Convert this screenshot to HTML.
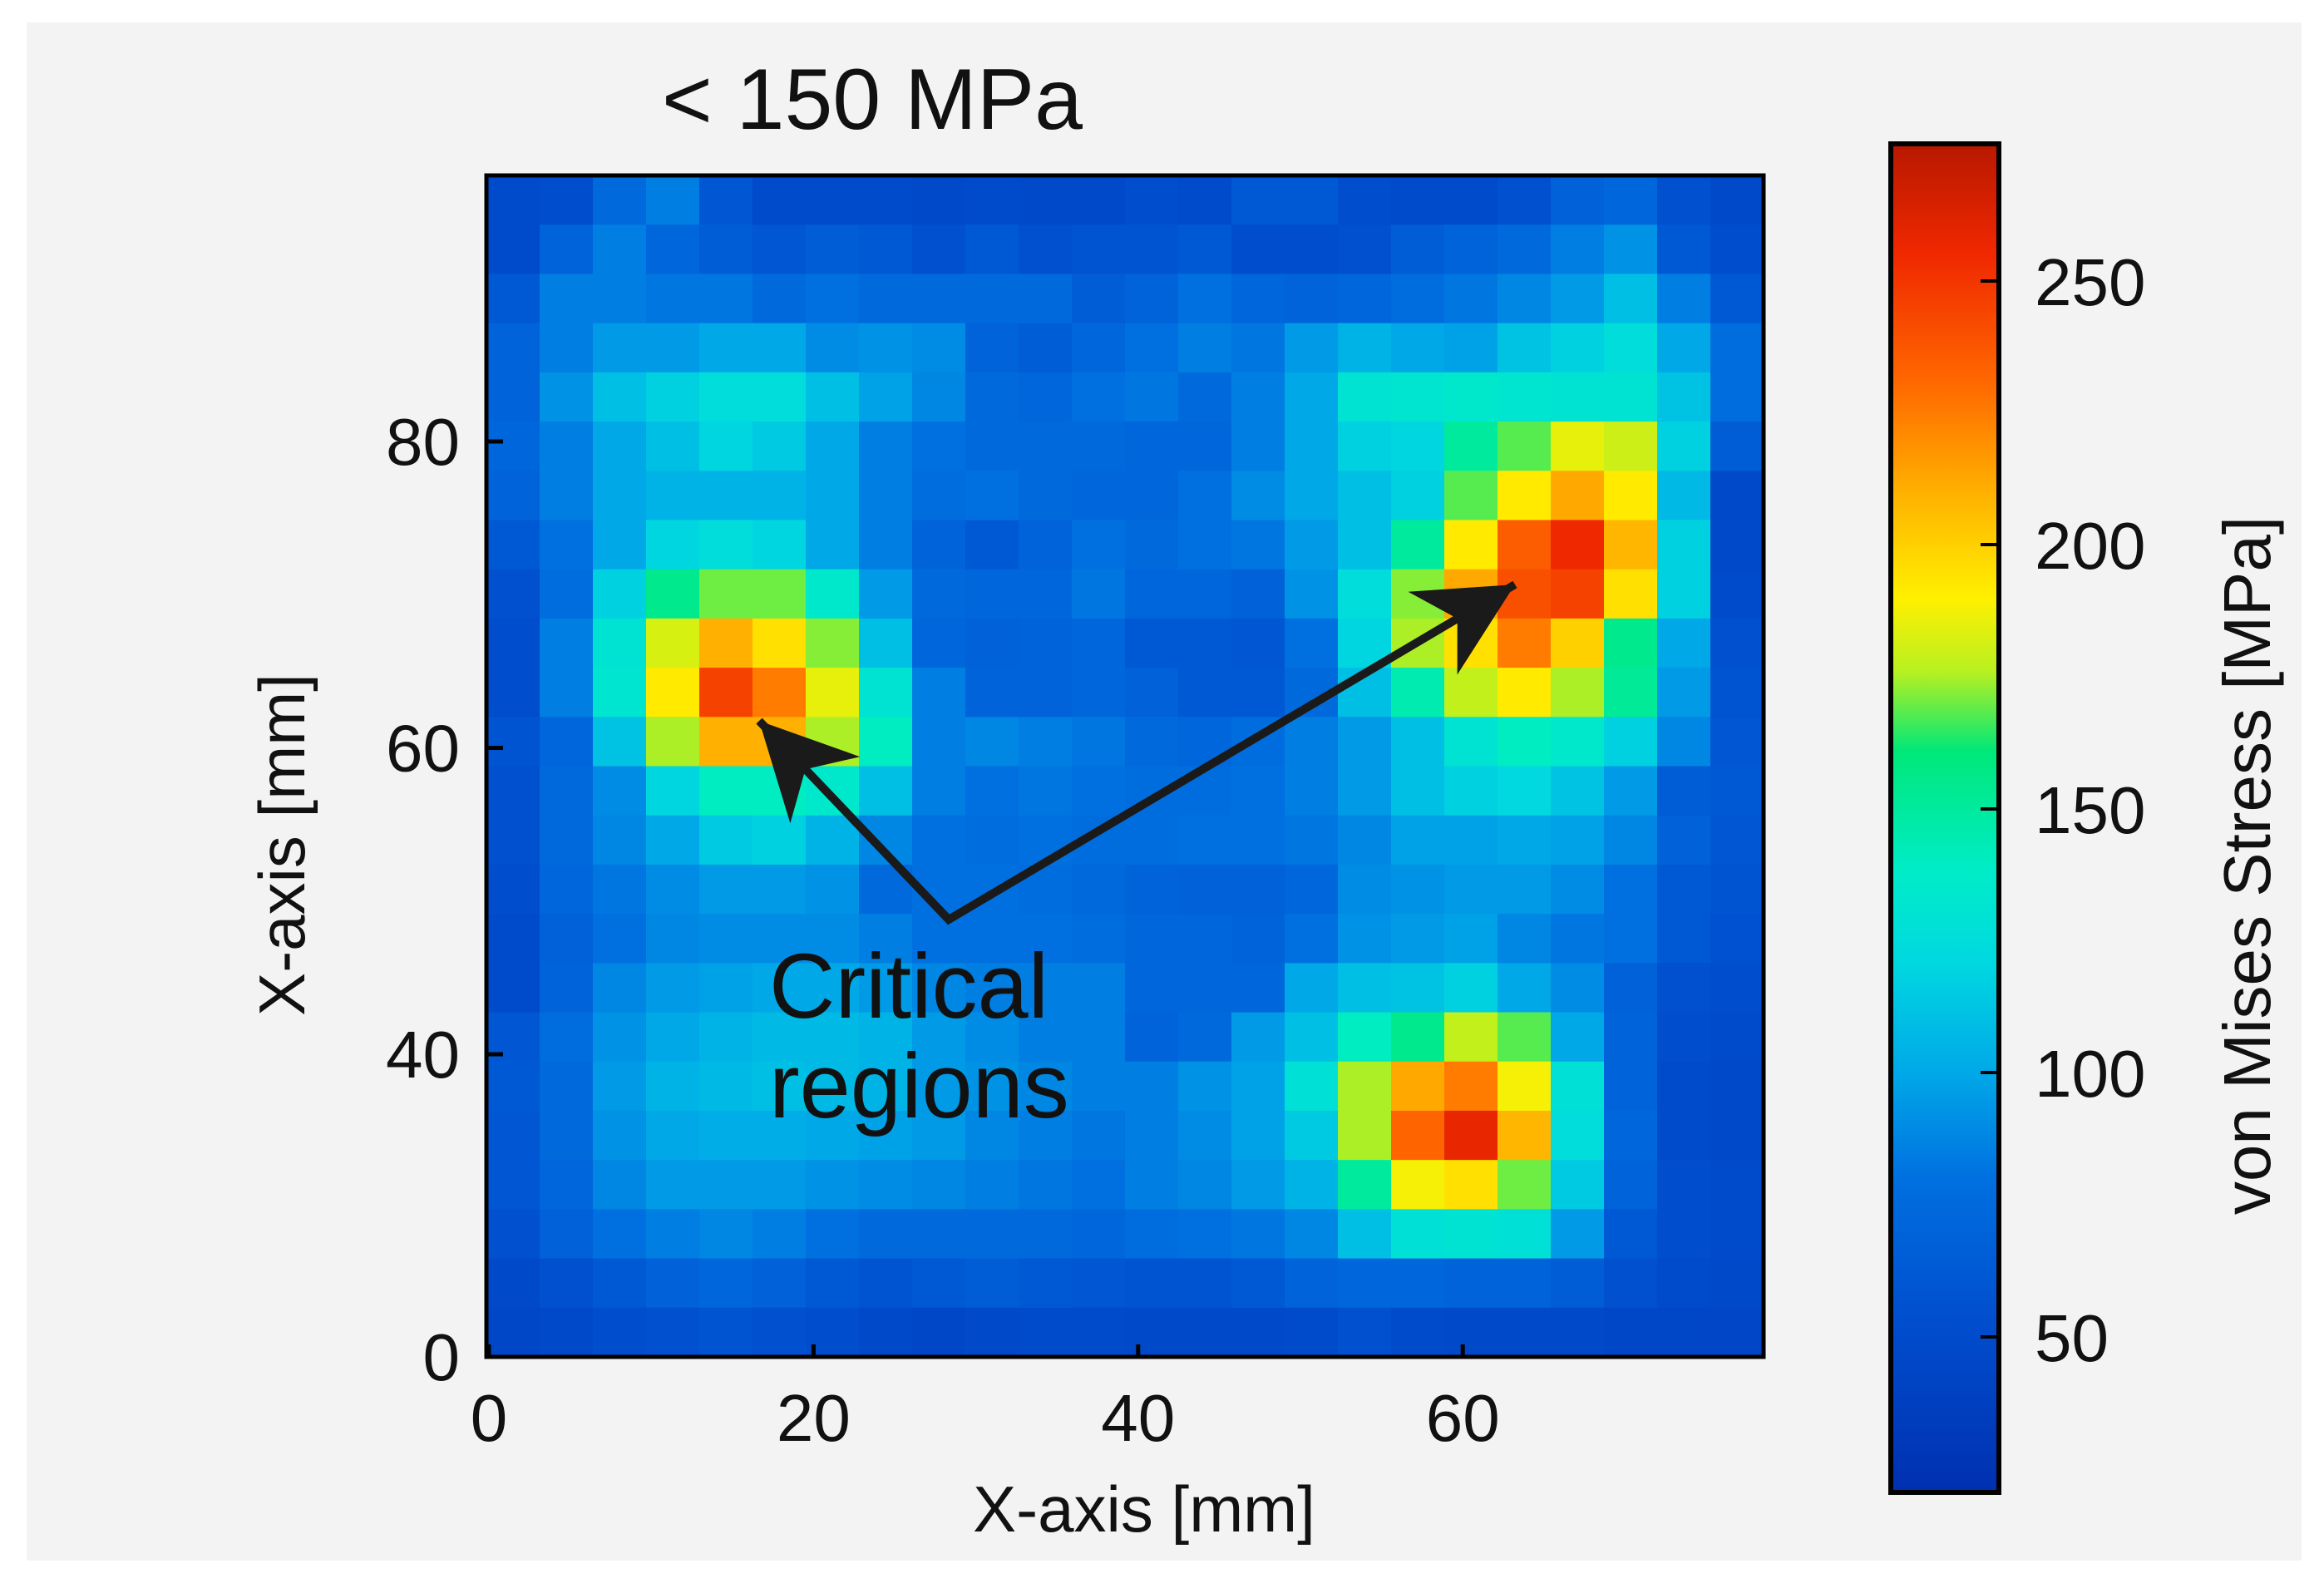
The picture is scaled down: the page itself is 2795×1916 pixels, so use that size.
<!DOCTYPE html>
<html><head><meta charset="utf-8">
<style>
html,body{margin:0;padding:0;background:#fff;}
svg{display:block;}
text{font-family:"Liberation Sans","DejaVu Sans",sans-serif;fill:#111;}
</style></head>
<body>
<svg id="chart" width="2795" height="1916" viewBox="0 0 2795 1916" xmlns="http://www.w3.org/2000/svg">
  <defs>
    <linearGradient id="cbgrad" x1="0" y1="1" x2="0" y2="0">
      <stop offset="0" stop-color="#0030b0"/>
      <stop offset="0.135" stop-color="#0050d0"/>
      <stop offset="0.233" stop-color="#0070e0"/>
      <stop offset="0.311" stop-color="#00a8e8"/>
      <stop offset="0.393" stop-color="#00d8e0"/>
      <stop offset="0.460" stop-color="#00ecc8"/>
      <stop offset="0.550" stop-color="#00e878"/>
      <stop offset="0.609" stop-color="#b8f020"/>
      <stop offset="0.663" stop-color="#fff000"/>
      <stop offset="0.742" stop-color="#ffb000"/>
      <stop offset="0.820" stop-color="#ff6a00"/>
      <stop offset="0.918" stop-color="#f02800"/>
      <stop offset="1" stop-color="#b81800"/>
    </linearGradient>
  </defs>
  <rect x="0" y="0" width="2795" height="1916" fill="#ffffff"/>
  <rect x="32" y="27" width="2736" height="1850" fill="#f3f3f3"/>
  <text x="1049" y="155" font-size="104" text-anchor="middle">&lt; 150 MPa</text>
  <g id="cells"></g>
  <rect x="585" y="211" width="1536" height="1421" fill="none" stroke="#000" stroke-width="5"/>
  <g id="axes"></g>
  <g id="annot">
    <polyline points="913,867 1141,1106 1822,703" fill="none" stroke="#1a1a1a" stroke-width="10" stroke-linejoin="miter"/>
    <text x="925" y="1224" font-size="110">Critical</text>
    <text x="925" y="1344" font-size="110">regions</text>
  </g>
  <g id="cbar">
    <rect x="2274" y="173" width="130" height="1622" fill="url(#cbgrad)" stroke="#000" stroke-width="6"/>
    <line x1="2382" x2="2404" y1="1608" y2="1608" stroke="#000" stroke-width="4"/>
    <line x1="2382" x2="2404" y1="1290" y2="1290" stroke="#000" stroke-width="4"/>
    <line x1="2382" x2="2404" y1="973" y2="973" stroke="#000" stroke-width="4"/>
    <line x1="2382" x2="2404" y1="655" y2="655" stroke="#000" stroke-width="4"/>
    <line x1="2382" x2="2404" y1="338" y2="338" stroke="#000" stroke-width="4"/>
    <text x="2447" y="1637" font-size="80">50</text>
    <text x="2447" y="1319" font-size="80">100</text>
    <text x="2447" y="1002" font-size="80">150</text>
    <text x="2447" y="684" font-size="80">200</text>
    <text x="2447" y="367" font-size="80">250</text>
  </g>
  <text x="1376" y="1842" font-size="78" text-anchor="middle">X-axis [mm]</text>
  <text x="0" y="0" font-size="78" text-anchor="middle" transform="translate(366,1016) rotate(-90)">X-axis [mm]</text>
  <text x="0" y="0" font-size="80" text-anchor="middle" transform="translate(2730,1041) rotate(-90)">von Mises Stress [MPa]</text>
</svg>
<script>
const stressRows = [
 [50,52,75,85,60,50,50,50,48,50,48,48,52,50,62,62,52,50,50,55,68,72,55,48],
 [50,70,85,72,65,60,65,62,55,62,55,58,58,62,52,52,55,65,70,75,85,92,62,52],
 [62,85,85,82,82,75,80,75,75,75,75,65,70,80,72,70,72,78,82,88,95,110,85,62],
 [70,85,95,95,100,100,90,92,90,70,65,72,80,85,82,95,105,100,98,112,118,125,100,78],
 [70,92,110,118,125,125,110,98,88,75,72,80,82,75,85,100,130,132,135,132,130,130,112,78],
 [72,85,100,110,120,115,100,85,80,75,75,75,72,72,85,100,118,120,150,168,185,180,118,65],
 [70,85,100,105,105,105,100,85,78,80,75,72,72,80,90,100,110,118,168,192,212,192,108,48],
 [62,80,100,120,125,120,100,85,70,62,70,80,75,80,82,95,110,150,192,235,255,208,118,48],
 [55,78,118,155,170,170,135,95,75,72,72,82,72,72,68,92,125,172,212,240,245,195,118,50],
 [52,85,130,182,210,195,172,110,72,68,70,72,62,62,60,80,120,175,195,225,200,155,100,55],
 [52,85,132,192,245,225,185,130,85,70,70,72,68,62,62,75,110,145,178,192,175,152,95,58],
 [58,72,112,175,210,210,175,140,85,88,85,82,75,72,78,85,95,110,130,140,135,118,88,60],
 [55,75,90,120,140,140,135,110,85,80,82,80,78,78,80,85,95,110,118,122,112,95,65,62],
 [55,75,88,100,115,118,105,88,80,78,80,78,78,80,80,82,88,98,98,100,98,88,68,60],
 [52,72,82,90,95,95,92,75,80,80,78,75,70,68,68,72,90,92,95,95,90,80,62,58],
 [50,68,80,88,90,90,90,85,80,80,80,78,72,72,70,80,92,95,98,88,82,80,62,56],
 [50,70,88,95,98,100,100,95,88,85,85,85,72,72,72,100,110,112,118,100,90,68,55,52],
 [60,78,92,100,105,108,108,105,95,90,85,85,70,75,95,110,140,155,178,168,100,70,52,50],
 [62,75,95,105,108,110,108,105,95,92,88,85,85,92,98,128,175,212,225,188,128,70,50,48],
 [60,75,92,100,102,102,100,98,95,88,85,82,85,90,98,115,175,232,258,208,125,72,50,48],
 [60,72,88,95,95,95,92,90,88,85,82,80,85,88,95,105,150,188,195,170,115,70,52,50],
 [55,68,80,85,88,85,80,75,75,75,75,72,78,80,82,88,110,128,130,128,95,62,52,50],
 [48,55,62,68,72,68,62,58,62,65,62,60,58,58,62,70,72,72,70,70,65,55,50,48],
 [45,48,52,55,58,55,52,48,45,48,50,50,48,48,48,50,55,50,48,48,48,45,45,44]
];
const xTickValues = [0, 20, 40, 60];
const xTickLabels = ["0", "20", "40", "60"];
const yTickValues = [0, 40, 60, 80];
const yTickLabels = ["0", "40", "60", "80"];

const cmapV = [20,55,80,100,121,138,161,176,190,210,230,255,276];
const cmapC = ["#0030b0","#0050d0","#0070e0","#00a8e8","#00d8e0","#00ecc8","#00e878","#b8f020","#fff000","#ffb000","#ff6a00","#f02800","#b81800"];
function hexToRgb(c){return [parseInt(c.slice(1,3),16),parseInt(c.slice(3,5),16),parseInt(c.slice(5,7),16)];}
function colorOf(v){
  if(v<=cmapV[0]) return cmapC[0];
  for(let i=1;i<cmapV.length;i++){
    if(v<=cmapV[i]){
      const t=(v-cmapV[i-1])/(cmapV[i]-cmapV[i-1]);
      const a=hexToRgb(cmapC[i-1]), b=hexToRgb(cmapC[i]);
      return "rgb("+a.map((x,k)=>Math.round(x+(b[k]-x)*t)).join(",")+")";
    }
  }
  return cmapC[cmapC.length-1];
}

const SVGNS="http://www.w3.org/2000/svg";
const plotL=585, plotR=2121, plotT=211, plotB=1632;
const nRows=stressRows.length, nCols=stressRows[0].length;
const cellW=(plotR-plotL)/nCols, cellH=(plotB-plotT)/nRows;
function xScale(v){return 588 + v*19.52;}
function yScale(v){
  if(v<=40) return plotB - v*(364/40);
  return 1268 - (v-40)*(737/40);
}

function mk(tag, attrs, parent){
  const e=document.createElementNS(SVGNS,tag);
  for(const k in attrs) e.setAttribute(k,String(attrs[k]));
  parent.appendChild(e); return e;
}

try {
const cellsG=document.getElementById('cells');
stressRows.forEach((row,r)=>{
  row.forEach((v,c)=>{
    const el=mk('rect',{x:(plotL+c*cellW).toFixed(2),y:(plotT+r*cellH).toFixed(2),width:(cellW+0.6).toFixed(2),height:(cellH+0.6).toFixed(2),fill:colorOf(v)},cellsG);
    
    
  });
});
} catch(e) {}

try {
const axesG=document.getElementById('axes');
xTickValues.forEach((v,i)=>{
  const x=xScale(v);
  const t=mk('line',{x1:x,x2:x,y1:plotB,y2:plotB-15,stroke:"#000","stroke-width":5},axesG);
  
  
  const l=mk('text',{x:x,y:1733,"font-size":80,"text-anchor":"middle"},axesG);
  l.textContent=xTickLabels[i];
  
  
});
yTickValues.forEach((v,i)=>{
  const y=yScale(v);
  const t=mk('line',{x1:plotL,x2:plotL+20,y1:y,y2:y,stroke:"#000","stroke-width":5},axesG);
  
  
  const l=mk('text',{x:553,y:y+28,"font-size":80,"text-anchor":"end"},axesG);
  l.textContent=yTickLabels[i];
  
  
});
} catch(e) {}

try {
const annotG=document.getElementById('annot');
function arrowHead(tx,ty,fx,fy){
  const dx=tx-fx, dy=ty-fy, L=Math.hypot(dx,dy), ux=dx/L, uy=dy/L, px=-uy, py=ux;
  const hl=115, hw=58, back=hl*0.7;
  const pts=[[tx,ty],[tx-ux*hl+px*hw,ty-uy*hl+py*hw],[tx-ux*back,ty-uy*back],[tx-ux*hl-px*hw,ty-uy*hl-py*hw]];
  const p=mk('polygon',{points:pts.map(q=>q[0].toFixed(1)+","+q[1].toFixed(1)).join(" "),fill:"#1a1a1a"},annotG);
  
  
}
arrowHead(913,867,1141,1106);
arrowHead(1822,703,1141,1106);
} catch(e) {}
</script>
</body></html>
